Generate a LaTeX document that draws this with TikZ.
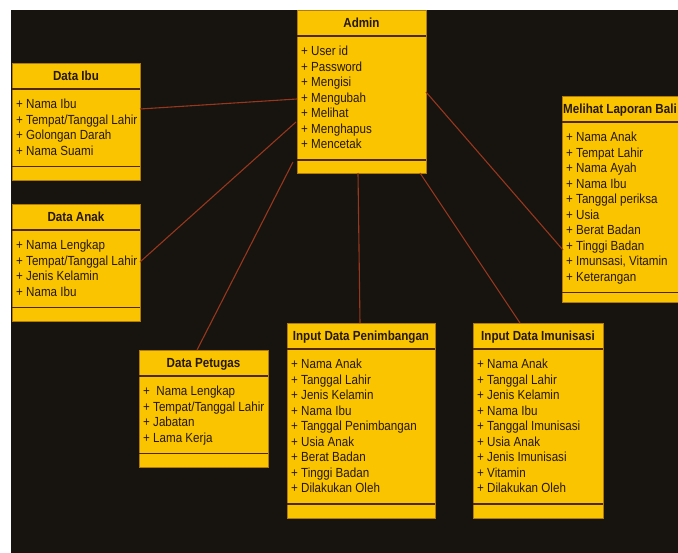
\documentclass[tikz,border=0pt]{standalone}
\usepackage{fontspec}
\setmainfont{Liberation Sans}[FakeStretch=0.88]
\usetikzlibrary{calc}

\definecolor{canvas}{HTML}{17130F}
\definecolor{boxfill}{RGB}{250,197,0}
\definecolor{boxedge}{RGB}{176,122,12}
\definecolor{divline}{RGB}{78,40,14}
\definecolor{ink}{RGB}{38,24,10}
\definecolor{linkred}{RGB}{150,55,30}

\tikzset{
  classframe/.style={draw=boxedge, fill=boxfill, line width=0.8pt,
    inner sep=0pt, outer sep=0pt, anchor=north west},
  divider/.style={draw=divline, line width=1.1pt},
  classtitle/.style={font=\fontsize{13.2}{15}\selectfont\bfseries, text=ink,
    inner sep=0pt, anchor=base},
  member/.style={font=\fontsize{13.2}{15}\selectfont, text=ink, inner sep=0pt,
    anchor=base west},
  assoc/.style={draw=linkred, line width=1.1pt},
}

% #1 name, #2 left, #3 top, #4 right, #5 number of members,
% #6 bottom padding, #7 title, #8 members, #9 extra title options
\newcommand\umlbox[9]{%
  \pgfmathsetmacro\bw{#4-#2}%
  \pgfmathsetmacro\ub{26+15+(#5-1)*15.5+16}%
  \pgfmathsetmacro\bh{\ub+#6}%
  \node[classframe, minimum width=\bw pt, minimum height=\bh pt] (#1) at (#2,#3) {};
  \draw[divider] ($(#1.north west)+(0,26)$) -- ($(#1.north east)+(0,26)$);
  \draw[divider] ($(#1.north west)+(0,\ub)$) -- ($(#1.north east)+(0,\ub)$);
  \node[classtitle, #9] (#1-title) at ($(#1.north)+(0,17.6)$) {#7};
  \foreach \m [count=\k] in {#8}
    \node[member] (#1-m\k) at ($(#1.north west)+(4,{45.7+(\k-1)*15.5})$) {\m};
}

\begin{document}
\begin{tikzpicture}[x=1pt, y=-1pt]
  \useasboundingbox (0,0) rectangle (678,553);
  \fill[white] (0,0) rectangle (678,553);
  \fill[canvas] (11,10) rectangle (678,553);

  \begin{scope}
    \clip (0,0) rectangle (678,553);

    \umlbox{admin}{297}{10}{426}{7}{13}{Admin}
      {+ User id, + Password, + Mengisi, + Mengubah, + Melihat, + Menghapus, + Mencetak}{}

    \umlbox{ibu}{12}{63}{140}{4}{14}{Data Ibu}
      {+ Nama Ibu, + Tempat/Tanggal Lahir, + Golongan Darah, + Nama Suami}{}

    \umlbox{anak}{12}{204}{140}{4}{14}{Data Anak}
      {+ Nama Lengkap, + Tempat/Tanggal Lahir, + Jenis Kelamin, + Nama Ibu}{}

    \umlbox{petugas}{139}{350}{268}{4}{14}{Data Petugas}
      {+ \ Nama Lengkap, + Tempat/Tanggal Lahir, + Jabatan, + Lama Kerja}{}

    \umlbox{timbang}{287}{323}{435}{9}{14}{Input Data Penimbangan}
      {+ Nama Anak, + Tanggal Lahir, + Jenis Kelamin, + Nama Ibu,
       + Tanggal Penimbangan, + Usia Anak, + Berat Badan, + Tinggi Badan,
       + Dilakukan Oleh}{}

    \umlbox{imun}{473}{323}{603}{9}{14}{Input Data Imunisasi}
      {+ Nama Anak, + Tanggal Lahir, + Jenis Kelamin, + Nama Ibu,
       + Tanggal Imunisasi, + Usia Anak, + Jenis Imunisasi, + Vitamin,
       + Dilakukan Oleh}{}

    \umlbox{laporan}{562}{96}{700}{10}{10}{Melihat Laporan Bali}
      {+ Nama Anak, + Tempat Lahir, + Nama Ayah, + Nama Ibu, + Tanggal periksa,
       + Usia, + Berat Badan, + Tinggi Badan, {+ Imunsasi, Vitamin}, + Keterangan}
      {anchor=base west, xshift=-68pt}

    % associations from Admin to every class
    \draw[assoc] ($(ibu.north east)+(0,46)$) -- ($(admin.north west)+(0,89)$);
    \draw[assoc] ($(anak.north east)+(0,58)$) -- ($(admin.north west)+(-1,112)$);
    \draw[assoc] ($(petugas.north west)+(58,0)$) -- ($(admin.north west)+(-4,152)$);
    \draw[assoc] ($(timbang.north west)+(73,0)$) -- ($(admin.south west)+(61,0)$);
    \draw[assoc] ($(admin.north east)+(0,82)$) -- ($(laporan.north west)+(1,154)$);
    \draw[assoc] ($(admin.south east)+(-6,0)$) -- ($(imun.north west)+(47,0)$);
  \end{scope}
\end{tikzpicture}
\end{document}
